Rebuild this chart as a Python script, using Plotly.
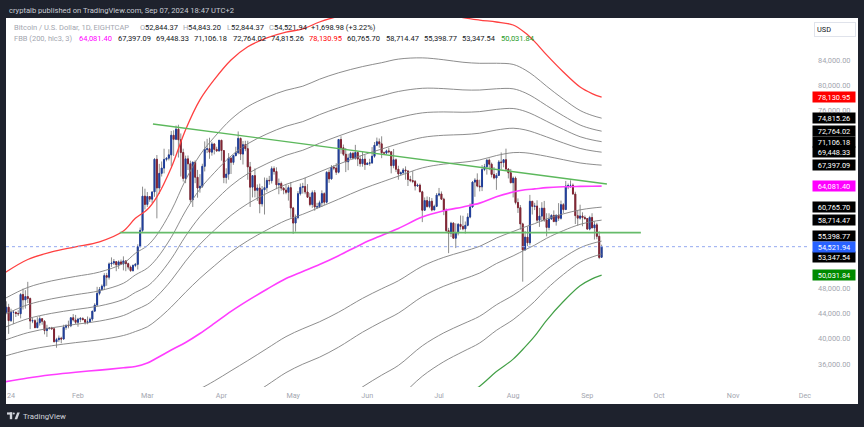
import plotly.graph_objects as go
import pandas as pd

# ---------------- data ----------------
# daily candles [open, high, low, close], BTCUSD 1D, Jan 1 - Sep 7 2024
jan = [
    [42280, 44180, 42180, 44180], [44180, 45900, 44150, 44960], [44960, 45500, 40750, 42850],
    [42850, 44730, 42630, 44160], [44160, 44340, 42300, 44170], [44170, 44230, 43420, 43970],
    [43970, 44490, 43580, 43930], [43930, 47220, 43200, 46970], [46970, 47890, 44600, 46120],
    [46120, 47650, 44750, 46650], [46650, 48970, 45630, 46340], [46340, 46500, 41500, 42780],
    [42780, 43250, 42440, 42840], [42840, 43060, 41720, 41730], [41730, 43390, 41720, 42510],
    [42510, 43570, 42060, 43150], [43150, 43200, 42200, 42740], [42740, 42930, 40680, 41280],
    [41280, 42190, 40280, 41620], [41620, 41820, 41430, 41670], [41670, 41870, 41500, 41550],
    [41550, 41680, 39440, 39510], [39510, 40130, 38560, 39850], [39850, 40500, 39490, 40080],
    [40080, 40300, 39270, 39940], [39940, 42200, 39820, 41800], [41800, 42200, 41400, 42120],
    [42120, 42840, 41620, 42030], [42030, 43310, 41810, 43300], [43300, 43880, 42700, 42950],
    [42950, 43750, 42280, 42580],
]
feb = [
    [42580, 43290, 41880, 43080], [43080, 43420, 42580, 43190], [43190, 43380, 42900, 43000],
    [43000, 43110, 42240, 42580], [42580, 43500, 42270, 42660], [42660, 43350, 42580, 43090],
    [43090, 44380, 42800, 44340], [44340, 45600, 44340, 45300], [45300, 48180, 45250, 47150],
    [47150, 48150, 46850, 47770], [47770, 48570, 47620, 48290], [48290, 50340, 47720, 49960],
    [49960, 50390, 48350, 49700], [49700, 52040, 49330, 51800], [51800, 52830, 51330, 51940],
    [51940, 52580, 51620, 52160], [52160, 52180, 50650, 51660], [51660, 52360, 51020, 52120],
    [52120, 52490, 51680, 51780], [51780, 52990, 50780, 52280], [52280, 52370, 50650, 51840],
    [51840, 52000, 50920, 51300], [51300, 51540, 50550, 50740], [50740, 51700, 50600, 51570],
    [51570, 51950, 51290, 51730], [51730, 54900, 50920, 54520], [54520, 57550, 54480, 57090],
    [57090, 64000, 56700, 62500], [62500, 63680, 60400, 61200],
]
mar = [
    [61200, 63150, 60800, 62440], [62440, 62450, 61600, 62030], [62030, 63200, 61400, 63170],
    [63170, 68500, 62400, 68330], [68330, 69000, 59000, 63800], [63800, 67600, 62850, 66100],
    [66100, 67980, 65600, 66930], [66930, 69990, 66100, 68300], [68300, 68650, 67990, 68500],
    [68500, 69900, 68150, 69020], [69020, 72800, 67200, 72120], [72120, 72900, 68850, 71480],
    [71480, 73650, 71350, 73080], [73080, 73780, 68600, 71400], [71400, 72400, 65600, 69400],
    [69400, 70000, 64800, 65300], [65300, 68900, 64550, 68390], [68390, 68920, 66630, 67610],
    [67610, 68100, 61530, 61930], [61930, 68000, 60800, 67850], [67850, 68150, 64550, 65490],
    [65490, 66650, 62260, 63780], [63780, 65970, 63050, 64060], [64060, 67620, 63800, 67210],
    [67210, 71150, 66400, 69880], [69880, 71550, 69300, 69990], [69990, 71730, 68400, 69450],
    [69450, 71100, 68900, 70740], [70740, 70900, 69100, 69890], [69890, 70300, 69500, 69640],
    [69640, 71370, 69550, 71330],
]
apr = [
    [71330, 71340, 68100, 69700], [69700, 69700, 64550, 65450], [65450, 66900, 64500, 65980],
    [65980, 69300, 65100, 68500], [68500, 68700, 66000, 67840], [67840, 69000, 67450, 68900],
    [68900, 70300, 68800, 69360], [69360, 72720, 69100, 71620], [71620, 71750, 68200, 69150],
    [69150, 71200, 67500, 70630], [70630, 71250, 69600, 70000], [70000, 71250, 65100, 67120],
    [67120, 67900, 60800, 63920], [63920, 65800, 62300, 65740], [65740, 66880, 62300, 63420],
    [63420, 64350, 61750, 63790], [63790, 64470, 59800, 61280], [61280, 64100, 60850, 63510],
    [63510, 65450, 59600, 63840], [63840, 65400, 63200, 64990], [64990, 65700, 64300, 64940],
    [64940, 67200, 64500, 66840], [66840, 67200, 65900, 66400], [66400, 67050, 63600, 64290],
    [64290, 65280, 62800, 64500], [64500, 64800, 63350, 63770], [63770, 63930, 62800, 63460],
    [63460, 64300, 62800, 63110], [63110, 64230, 61800, 63840], [63840, 64720, 59100, 60640],
]
may = [
    [60640, 60800, 56550, 58250], [58250, 59600, 56900, 59120], [59120, 63300, 58850, 62890],
    [62890, 64500, 62600, 63890], [63890, 64600, 62900, 64030], [64030, 65400, 62800, 63160],
    [63160, 64400, 62300, 62330], [62330, 62980, 60900, 61190], [61190, 63400, 60650, 63050],
    [63050, 63450, 60200, 60790], [60790, 61450, 60500, 60820], [60820, 61800, 60630, 61460],
    [61460, 63420, 60800, 62900], [62900, 63100, 61100, 61550], [61550, 66450, 61350, 66260],
    [66260, 66700, 64600, 65230], [65230, 67400, 65100, 67050], [67050, 67400, 66600, 66940],
    [66940, 67700, 65850, 66280], [66280, 71500, 66100, 71450], [71450, 71950, 69200, 70140],
    [70140, 70650, 68850, 69120], [69120, 70100, 66300, 67930], [67930, 69200, 66600, 68530],
    [68530, 69500, 68500, 69260], [69260, 69500, 68250, 68510], [68510, 70600, 68250, 69390],
    [69390, 69550, 67250, 68360], [68360, 68900, 67150, 67630], [67630, 69500, 67150, 68350],
    [68350, 69000, 66650, 67490],
]
jun = [
    [67490, 67850, 67420, 67710], [67710, 68400, 67300, 67750], [67750, 70250, 67600, 68800],
    [68800, 71050, 68550, 70540], [70540, 71750, 70400, 71080], [71080, 71600, 70150, 70760],
    [70760, 71950, 68500, 69340], [69340, 69550, 69200, 69300], [69300, 69850, 69100, 69650],
    [69650, 70150, 69250, 69510], [69510, 69550, 66100, 67320], [67320, 69950, 66900, 68240],
    [68240, 68450, 66300, 66750], [66750, 67300, 65100, 66010], [66010, 66400, 65900, 66190],
    [66190, 66950, 66050, 66640], [66640, 67200, 65100, 66490], [66490, 66500, 64100, 65140],
    [65140, 65700, 64700, 64960], [64960, 66450, 64550, 64830], [64830, 65050, 63400, 64100],
    [64100, 64500, 63950, 64250], [64250, 64500, 63200, 63180], [63180, 63350, 58400, 60280],
    [60280, 62300, 60250, 61800], [61800, 62450, 60700, 60860], [60860, 62350, 60600, 61700],
    [61700, 62200, 60100, 60320], [60320, 61150, 60300, 60890], [60890, 63000, 60780, 62670],
]
jul = [
    [62670, 63800, 62450, 62850], [62850, 63250, 61900, 62030], [62030, 62250, 59500, 60200],
    [60200, 60550, 56800, 57050], [57050, 57500, 53500, 56660], [56660, 58450, 56050, 58240],
    [58240, 58400, 55800, 55860], [55860, 58200, 54300, 56710], [56710, 58250, 56300, 58050],
    [58050, 59450, 57200, 57720], [57720, 59400, 57100, 57340], [57340, 58500, 56600, 57890],
    [57890, 59800, 57750, 59200], [59200, 61350, 59000, 60800], [60800, 64900, 60650, 64720],
    [64720, 65350, 62400, 65040], [65040, 66100, 63900, 64090], [64090, 65100, 63250, 63970],
    [63970, 67400, 63300, 66700], [66700, 67600, 66450, 67150], [67150, 68350, 65900, 68190],
    [68190, 68450, 66600, 67550], [67550, 67800, 65450, 65930], [65930, 67100, 65150, 65370],
    [65370, 66150, 63500, 65780], [65780, 68200, 65750, 67900], [67900, 69400, 66700, 67800],
    [67800, 68300, 67050, 68250], [68250, 70000, 66500, 66780], [66780, 66950, 65300, 66190],
    [66190, 66800, 64550, 64620],
]
aug = [
    [64620, 65600, 62300, 65350], [65350, 65600, 61200, 61500], [61500, 62150, 59850, 60680],
    [60680, 61100, 57200, 58120], [58120, 58300, 49000, 54020], [54020, 57000, 53900, 56030],
    [56030, 57700, 54600, 55130], [55130, 62700, 54750, 61690], [61690, 61750, 59600, 60880],
    [60880, 61450, 60300, 60940], [60940, 61850, 58300, 58710], [58710, 60650, 57650, 59350],
    [59350, 61550, 58450, 60600], [60600, 61750, 58450, 58740], [58740, 59800, 56150, 57560],
    [57560, 59800, 57100, 58880], [58880, 59650, 58800, 59460], [59460, 60250, 58450, 58480],
    [58480, 59600, 57850, 59490], [59490, 61400, 58600, 59010], [59010, 61800, 58800, 61160],
    [61160, 61400, 59800, 60380], [60380, 64900, 60350, 64100], [64100, 64500, 63600, 64180],
    [64180, 65000, 63800, 64220], [64220, 64500, 62800, 62830], [62830, 63200, 58100, 59420],
    [59420, 60200, 57850, 59030], [59030, 61150, 58800, 59370], [59370, 59950, 57750, 59120],
    [59120, 59450, 58750, 58970],
]
sep = [
    [58970, 59050, 57200, 57300], [57300, 59400, 57100, 59130], [59130, 59800, 57450, 57490],
    [57490, 58500, 55650, 57970], [57970, 58300, 55700, 56160], [56160, 56950, 52550, 52822.96],
    [52844.37, 54843.20, 52844.37, 54521.94],
]

# Fibonacci Bollinger Bands (200, hlc3, 3): basis and upper-1.0 band
band_days = [0, 10, 20, 30, 40, 50, 55, 60, 64, 70, 76, 82, 88, 95, 102, 110, 118, 125,
             132, 140, 150, 158, 165, 175, 184, 192, 199, 206, 213, 218, 222, 227, 234, 241, 246, 250]
band_basis = [33150, 33800, 34300, 34700, 35030, 35400, 35600, 36150, 36950, 38200, 39400, 40820,
              42400, 44300, 46000, 47800, 49500, 50600, 51700, 53100, 55000, 56300, 57400, 59200,
              60200, 60800, 61400, 62400, 63150, 63500, 63650, 63850, 63980, 64040, 64070, 64081.40]
band_upper = [50300, 52500, 53700, 54500, 55300, 57000, 59000, 60400, 62400, 67000, 73000, 77700,
              80900, 84000, 86100, 87480, 88400, 88900, 90000, 90900, 91600, 92000, 92400, 92100,
              91400, 90700, 90300, 90000, 89530, 88300, 86900, 84800, 82100, 79730, 78700, 78130.95]
upper_levels = [0.236, 0.382, 0.5, 0.618, 0.764]
lower_levels = [0.236, 0.382, 0.618, 0.764, 1.0]

# last values shown in the FBB legend: basis, upper 0.236..1, lower 0.236,0.382,0.618,0.764,1
fbb_last = [64081.40, 67397.09, 69448.33, 71106.18, 72764.02, 74815.26, 78130.95,
            60765.70, 58714.47, 55398.77, 53347.54, 50031.84]
last_price = 54521.94
price_change = 1698.98
price_change_pct = 3.22

# hand-drawn trend lines (date, price)
trend_desc_dates = ["2024-03-03 08:00", "2024-09-09 05:00"]
trend_desc_prices = [73890, 64410]
trend_flat_dates = ["2024-02-18 12:00", "2024-09-23 10:00"]
trend_flat_prices = [56750, 56750]

y_ticks = [36000, 40000, 44000, 48000, 76000, 80000, 84000]
month_ticks = ["2024-02-01", "2024-03-01", "2024-04-01", "2024-05-01", "2024-06-01", "2024-07-01",
               "2024-08-01", "2024-09-01", "2024-10-01", "2024-11-01", "2024-12-01"]
month_names = ["Feb", "Mar", "Apr", "May", "Jun", "Jul", "Aug", "Sep", "Oct", "Nov", "Dec"]

# ---------------- build ----------------
rows = jan + feb + mar + apr + may + jun + jul + aug + sep
start = pd.Timestamp("2024-01-01")
dates = pd.date_range(start, periods=len(rows), freq="D")
o = [r[0] for r in rows]
h = [r[1] for r in rows]
l = [r[2] for r in rows]
c = [r[3] for r in rows]
body_hi = [max(a, b) for a, b in zip(o, c)]
body_lo = [min(a, b) for a, b in zip(o, c)]

band_dates = [start + pd.Timedelta(days=d) for d in band_days]

# pixel geometry of the plot area
W, H = 864, 427
L, R, T, B = 6, 808, 18, 387


def px(x):
    return (x - L) / (R - L)


def py(y):
    return (B - y) / (B - T)


FONT = "Roboto"
GRAY_TXT = "#a3a6af"
DARK_TXT = "#131722"
FS = 7.5

fig = go.Figure()


def add_line(vals, color, width):
    fig.add_trace(go.Scatter(x=band_dates, y=vals, mode="lines",
                             line=dict(color=color, width=width, shape="spline", smoothing=1.0),
                             hoverinfo="skip", showlegend=False))


for k in upper_levels:
    add_line([b + k * (u - b) for b, u in zip(band_basis, band_upper)], "#808080", 0.9)
for k in lower_levels:
    col, wd = ("#43a047", 1.2) if k == 1.0 else ("#808080", 0.9)
    add_line([b - k * (u - b) for b, u in zip(band_basis, band_upper)], col, wd)
add_line(band_upper, "#ff4040", 1.3)
add_line(band_basis, "#ff3dff", 1.6)

# trend lines
fig.add_trace(go.Scatter(x=trend_flat_dates, y=trend_flat_prices, mode="lines",
                         line=dict(color="#66bb6a", width=1.8), hoverinfo="skip", showlegend=False))
fig.add_trace(go.Scatter(x=trend_desc_dates, y=trend_desc_prices, mode="lines",
                         line=dict(color="#5cb85c", width=1.4), hoverinfo="skip", showlegend=False))

# candles: wicks (gray) then coloured bodies
fig.add_trace(go.Candlestick(x=dates, open=o, high=h, low=l, close=c,
                             increasing=dict(line=dict(color="#8c8c8c", width=1), fillcolor="#8c8c8c"),
                             decreasing=dict(line=dict(color="#8c8c8c", width=1), fillcolor="#8c8c8c"),
                             whiskerwidth=0, hoverinfo="skip", showlegend=False))
fig.add_trace(go.Candlestick(x=dates, open=o, high=body_hi, low=body_lo, close=c,
                             increasing=dict(line=dict(color="#1f3e9c", width=1), fillcolor="#1f3e9c"),
                             decreasing=dict(line=dict(color="#832433", width=1), fillcolor="#832433"),
                             whiskerwidth=0, hoverinfo="skip", showlegend=False))

shapes = []
# white chart panel
shapes.append(dict(type="rect", xref="paper", yref="paper", x0=px(6), x1=px(858), y0=py(404), y1=py(18),
                   fillcolor="white", line=dict(width=0), layer="below"))
# current price dotted line
shapes.append(dict(type="line", xref="paper", yref="y", x0=0, x1=1, y0=last_price, y1=last_price,
                   line=dict(color="#94aaf0", width=1, dash="dot")))
# TradingView logo
LC = "#d1d4dc"
shapes.append(dict(type="rect", xref="paper", yref="paper", x0=px(7), x1=px(12.2), y0=py(414.6), y1=py(412.4),
                   fillcolor=LC, line=dict(width=0)))
shapes.append(dict(type="rect", xref="paper", yref="paper", x0=px(9.8), x1=px(12.2), y0=py(419.2), y1=py(412.4),
                   fillcolor=LC, line=dict(width=0)))
shapes.append(dict(type="circle", xref="paper", yref="paper", x0=px(12.8), x1=px(14.8), y0=py(414.6), y1=py(412.6),
                   fillcolor=LC, line=dict(width=0)))
shapes.append(dict(type="path", xref="paper", yref="paper",
                   path=f"M {px(14.6)} {py(419.2)} L {px(17.2)} {py(412.4)} L {px(19.8)} {py(412.4)} L {px(17.2)} {py(419.2)} Z",
                   fillcolor=LC, line=dict(width=0)))

annotations = []


def fmt(v):
    return f"{v:,.2f}"


def txt(x, y, s, color, size=FS, anchor="left"):
    annotations.append(dict(xref="paper", yref="paper", x=px(x), y=py(y), xanchor=anchor, yanchor="middle",
                            text=s, showarrow=False, font=dict(family=FONT, size=size, color=color)))


# header
txt(7, 10.5, "cryptalb published on TradingView.com, Sep 07, 2024 18:47 UTC+2", "#c8cbd3", 7.6)

# legend line 1 (symbol + OHLC)
Y1, Y2 = 27.5, 39
txt(11.7, Y1, "Bitcoin / U.S. Dollar, 1D, EIGHTCAP", GRAY_TXT)
for letter, val, xl, xv in [("O", o[-1], 138.3, 143.3), ("H", h[-1], 181, 186),
                            ("L", l[-1], 225, 229.3), ("C", c[-1], 266.7, 271.7)]:
    txt(xl, Y1, letter, GRAY_TXT)
    txt(xv, Y1, fmt(val), DARK_TXT)
txt(309.3, Y1, f"+{fmt(price_change)} (+{price_change_pct:.2f}%)", DARK_TXT)

# legend line 2 (FBB values)
txt(11.7, Y2, "FBB (200, hlc3, 3)", GRAY_TXT)
fbb_colors = ["#ff00ff"] + [DARK_TXT] * 5 + ["#ff0000"] + [DARK_TXT] * 4 + ["#1e9a1e"]
for i, (v, col) in enumerate(zip(fbb_last, fbb_colors)):
    txt(77.3 + 38.3 * i, Y2, fmt(v), col)

# right price-scale labels
box_colors = ["#ff00ff"] + ["#000000"] * 5 + ["#ff0000"] + ["#000000"] * 4 + ["#008a00"]
box_shift = [0] * 9 + [5, -3, 0]
for v, col, sh in zip(fbb_last, box_colors, box_shift):
    annotations.append(dict(xref="paper", yref="y", x=px(833.5), y=v, yshift=sh, xanchor="center", yanchor="middle",
                            text=fmt(v), showarrow=False, bgcolor=col, borderpad=1, width=40, height=8,
                            font=dict(family=FONT, size=7.4, color="white")))
annotations.append(dict(xref="paper", yref="y", x=px(833.5), y=last_price, xanchor="center", yanchor="middle",
                        text=fmt(last_price), showarrow=False, bgcolor="#2962ff", borderpad=1, width=40, height=8,
                        font=dict(family=FONT, size=7.4, color="white")))
# USD box
annotations.append(dict(xref="paper", yref="paper", x=px(834.5), y=py(29), xanchor="center", yanchor="middle",
                        text="USD", showarrow=False, bgcolor="white", bordercolor="#e0e3eb", borderwidth=1,
                        borderpad=2, width=36, height=9, align="left",
                        font=dict(family=FONT, size=7.4, color=DARK_TXT)))
# clipped year label
txt(10.5, 395.5, "24", GRAY_TXT, 7.2, "center")
# TradingView wordmark
txt(21, 416, "TradingView", LC, 7.8)

x0 = start + pd.Timedelta(days=(L - 3.87) / 2.391)
x1 = start + pd.Timedelta(days=(R - 3.87) / 2.391)
y_lo = 84000 - (B - 60) / 6.333 * 1000
y_hi = 84000 + (60 - T) / 6.333 * 1000

fig.update_layout(
    width=W, height=H,
    margin=dict(l=L, r=W - R, t=T, b=H - B, pad=0),
    paper_bgcolor="#1e222d", plot_bgcolor="white",
    boxgap=0.45, boxmode="overlay",
    shapes=shapes, annotations=annotations,
    showlegend=False,
    xaxis=dict(range=[x0, x1], type="date", showgrid=False, zeroline=False, showline=False,
               rangeslider=dict(visible=False), tickvals=month_ticks, ticktext=month_names,
               ticks="", ticklabelstandoff=3, tickfont=dict(family=FONT, size=7.2, color=GRAY_TXT),
               fixedrange=True),
    yaxis=dict(range=[y_lo, y_hi], side="right", showgrid=False, zeroline=False, showline=False,
               tickvals=y_ticks, ticktext=[fmt(v) for v in y_ticks], ticks="", ticklabelstandoff=9,
               tickfont=dict(family=FONT, size=7.4, color=GRAY_TXT), fixedrange=True),
)

fig.write_html("out.html")
